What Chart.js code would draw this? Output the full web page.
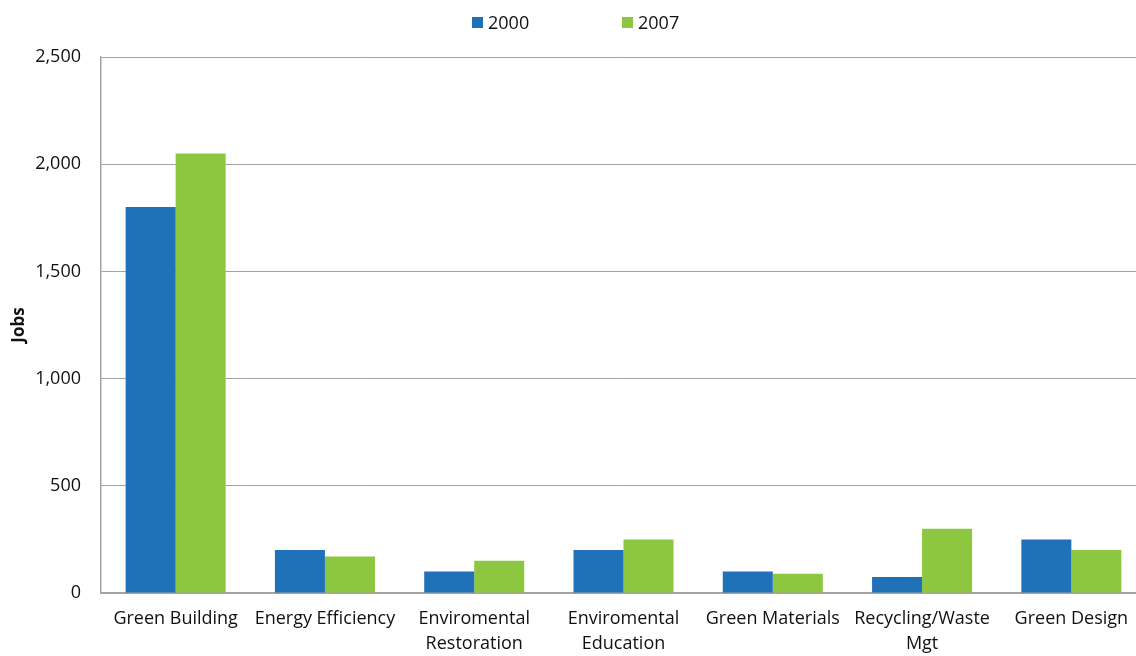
<!DOCTYPE html>
<html>
<head>
<meta charset="utf-8">
<script src="https://cdn.jsdelivr.net/npm/chart.js@4.4.1/dist/chart.umd.min.js"></script>
<style>
    html, body { margin: 0; padding: 0; background: #fff; overflow: hidden; }
    #wrap { position: relative; width: 1136px; height: 656px; overflow: hidden; }
    #legend {
        position: absolute; top: 10px; left: 0; width: 100%;
        font-family: "Open Sans", sans-serif; font-size: 18px; color: #111;
    }
    #legend .item { position: absolute; display: flex; align-items: center; }
    #legend .box { width: 11px; height: 11px; margin-right: 5px; }
</style>
</head>
<body>
<div id="wrap">
    <!-- canvas is a bit wider than the window: the original plot area runs past the right edge -->
    <canvas id="chart" width="1146" height="656"></canvas>
    <div id="legend"></div>
</div>
<script>
(function () {
    // -------- Data --------
    const categories = [
        "Green Building",
        "Energy Efficiency",
        ["Enviromental", "Restoration"],
        ["Enviromental", "Education"],
        "Green Materials",
        ["Recycling/Waste", "Mgt"],
        "Green Design"
    ];
    const seriesNames = ["2000", "2007"];
    const jobs2000 = [1800, 200, 100, 200, 100, 75, 250];
    const jobs2007 = [2050, 170, 150, 250, 90, 300, 200];
    const yTicks = [0, 500, 1000, 1500, 2000, 2500];

    const COLORS = ["#1f71b8", "#8dc63f"];
    const FONT = "'Open Sans', sans-serif";
    const GRID = "#a3a3a3";

    // -------- Legend (html) --------
    const legend = document.getElementById("legend");
    const legendX = [472, 622];
    seriesNames.forEach((name, i) => {
        const item = document.createElement("div");
        item.className = "item";
        item.style.left = legendX[i] + "px";
        item.innerHTML = '<span class="box" style="background:' + COLORS[i] + '"></span><span>' + name + "</span>";
        legend.appendChild(item);
    });

    // -------- Chart --------
    const ctx = document.getElementById("chart");
    new Chart(ctx, {
        type: "bar",
        data: {
            labels: categories,
            datasets: [
                { label: seriesNames[0], data: jobs2000, backgroundColor: COLORS[0] },
                { label: seriesNames[1], data: jobs2007, backgroundColor: COLORS[1] }
            ]
        },
        options: {
            responsive: false,
            animation: false,
            layout: { padding: { top: 57, right: 0, left: 9, bottom: 0 } },
            datasets: { bar: { categoryPercentage: 0.67, barPercentage: 1.0 } },
            plugins: { legend: { display: false }, tooltip: { enabled: false } },
            scales: {
                x: {
                    grid: { display: false, drawTicks: false },
                    border: { color: GRID, width: 1.5 },
                    ticks: {
                        color: "#111", padding: 13, maxRotation: 0, autoSkip: false,
                        font: { family: FONT, size: 18, lineHeight: 1.4 }
                    },
                    afterFit: (s) => { s.height = 63; }
                },
                y: {
                    min: 0, max: 2500,
                    afterBuildTicks: (s) => { s.ticks = yTicks.map(v => ({ value: v })); },
                    grid: { color: GRID, lineWidth: 1, drawTicks: false },
                    border: { color: GRID, width: 1.5 },
                    ticks: {
                        color: "#111", padding: 20,
                        font: { family: FONT, size: 18 },
                        callback: (v) => v.toLocaleString("en-US")
                    },
                    title: {
                        display: true, text: "Jobs", color: "#111", padding: 0,
                        font: { family: FONT, size: 17, weight: "bold" }
                    },
                    afterFit: (s) => { s.width = 92; }
                }
            }
        }
    });
})();
</script>
</body>
</html>
